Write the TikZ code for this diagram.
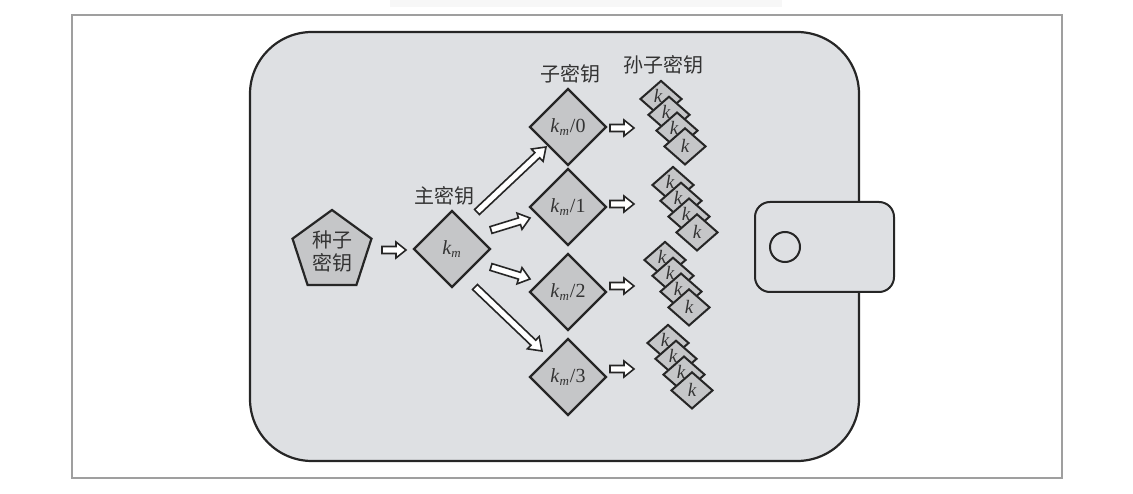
\documentclass[tikz,border=0pt]{standalone}
\usepackage{fontspec}
\newfontfamily\cjk{Noto Sans CJK SC}
\newfontfamily\tm{Liberation Serif}
\usetikzlibrary{shapes.geometric,calc}
\definecolor{walletfill}{HTML}{DEE0E3}
\definecolor{keyfill}{HTML}{C5C6C8}
\definecolor{ink}{HTML}{262626}
\definecolor{txt}{HTML}{333333}
\newcommand\kmlab[1]{{\tm\itshape k\kern0.01em\raisebox{-0.35ex}{\fontsize{13}{13}\selectfont m}\kern0.05em\upshape #1}}
\newcommand\harrow[5]{%
  \coordinate (hn) at ($(#2)!#5!(#1)$);
  \draw[hollowarrow] ($(#1)!#3!90:(#2)$) -- ($(hn)!#3!90:(#2)$) -- ($(hn)!#4!90:(#2)$) -- (#2)
    -- ($(hn)!#4!-90:(#2)$) -- ($(hn)!#3!-90:(#2)$) -- ($(#1)!#3!-90:(#2)$) -- cycle;
}
\tikzset{
  hollowarrow/.style={draw=ink, fill=white, line width=1.6pt, line join=miter},
  bigkey/.style={diamond, draw=ink, fill=keyfill, line width=2.2pt, inner sep=0pt,
    minimum width=77pt, minimum height=77pt, text=txt, font=\fontsize{20}{20}\selectfont},
  gkey/.style={diamond, draw=ink, fill=keyfill, line width=2pt, inner sep=0pt,
    minimum width=42pt, minimum height=37pt},
  gtxt/.style={text=txt, inner sep=0pt, font=\tm\itshape\fontsize{19}{19}\selectfont},
  cjklabel/.style={text=txt, inner sep=0pt, font=\cjk\fontsize{20}{20}\selectfont},
}
\begin{document}
\begin{tikzpicture}[x=1pt,y=-1pt]
\useasboundingbox (0,0) rectangle (1133,494);
% faint bar and frame
\fill[black!3] (390,0) rectangle (782,7);
\draw[gray!75, line width=1.5pt] (72,15) rectangle (1062,478);
% wallet
\draw[ink, line width=2.2pt, fill=walletfill, rounded corners=62pt] (250,32) rectangle (859,461);
\draw[ink, line width=2pt, fill=walletfill, rounded corners=15pt] (755,202) rectangle (894,292);
\node[circle, draw=ink, line width=2pt, minimum size=30pt, inner sep=0pt] (btn) at (785,247) {};
% seed
\node[regular polygon, regular polygon sides=5, minimum size=83pt, inner sep=0pt,
  draw=ink, fill=keyfill, line width=2.2pt, text=txt, align=center,
  font=\cjk\fontsize{20}{23}\selectfont] (seed) at (332,251.5) {种子\\密钥};
% master
\node[bigkey] (km) at (452,249) {\kmlab{}};
\node[cjklabel] (kmlab) at (444,196) {主密钥};
% children
\node[bigkey] (c0) at (568,127) {\kmlab{/0}};
\node[bigkey] (c1) at (568,207) {\kmlab{/1}};
\node[bigkey] (c2) at (568,292) {\kmlab{/2}};
\node[bigkey] (c3) at (568,377) {\kmlab{/3}};
\node[cjklabel] (clab) at (570,74) {子密钥};
\node[cjklabel] (glab) at (663,65) {孙子密钥};
% grandchildren
\foreach \g/\x/\y in {0/661/99, 1/673/185, 2/665/260, 3/668/343}{
  \foreach \i in {0,1,2,3}{
    \node[gkey] (g\g-\i) at ({\x+8*\i},{\y+15.8*\i}) {};
  }
  \foreach \i/\dx/\dy in {0/-3/-3, 1/-3/-3, 2/-3/-3, 3/0/0}{
    \node[gtxt] (gk\g-\i) at ($(g\g-\i.center)+(\dx,\dy)$) {k};
  }
}
% arrow end points
\coordinate (a0s) at (382,250); \coordinate (a0e) at (406,250);
\coordinate (b0s) at (477,212); \coordinate (b0e) at (546,147);
\coordinate (b1s) at (491,230); \coordinate (b1e) at (530,218);
\coordinate (b2s) at (491,267); \coordinate (b2e) at (530,279);
\coordinate (b3s) at (475,287); \coordinate (b3e) at (542,351);
\coordinate (d0s) at (610,128); \coordinate (d0e) at (634,128);
\coordinate (d1s) at (610,204); \coordinate (d1e) at (634,204);
\coordinate (d2s) at (610,286); \coordinate (d2e) at (634,286);
\coordinate (d3s) at (610,369); \coordinate (d3e) at (634,369);
\harrow{a0s}{a0e}{3.5pt}{8pt}{10pt}
\harrow{b0s}{b0e}{3.5pt}{8.5pt}{12pt}
\harrow{b1s}{b1e}{3.5pt}{8.5pt}{11pt}
\harrow{b2s}{b2e}{3.5pt}{8.5pt}{11pt}
\harrow{b3s}{b3e}{3.5pt}{8.5pt}{12pt}
\harrow{d0s}{d0e}{3.5pt}{8pt}{10pt}
\harrow{d1s}{d1e}{3.5pt}{8pt}{10pt}
\harrow{d2s}{d2e}{3.5pt}{8pt}{10pt}
\harrow{d3s}{d3e}{3.5pt}{8pt}{10pt}
\end{tikzpicture}
\end{document}
